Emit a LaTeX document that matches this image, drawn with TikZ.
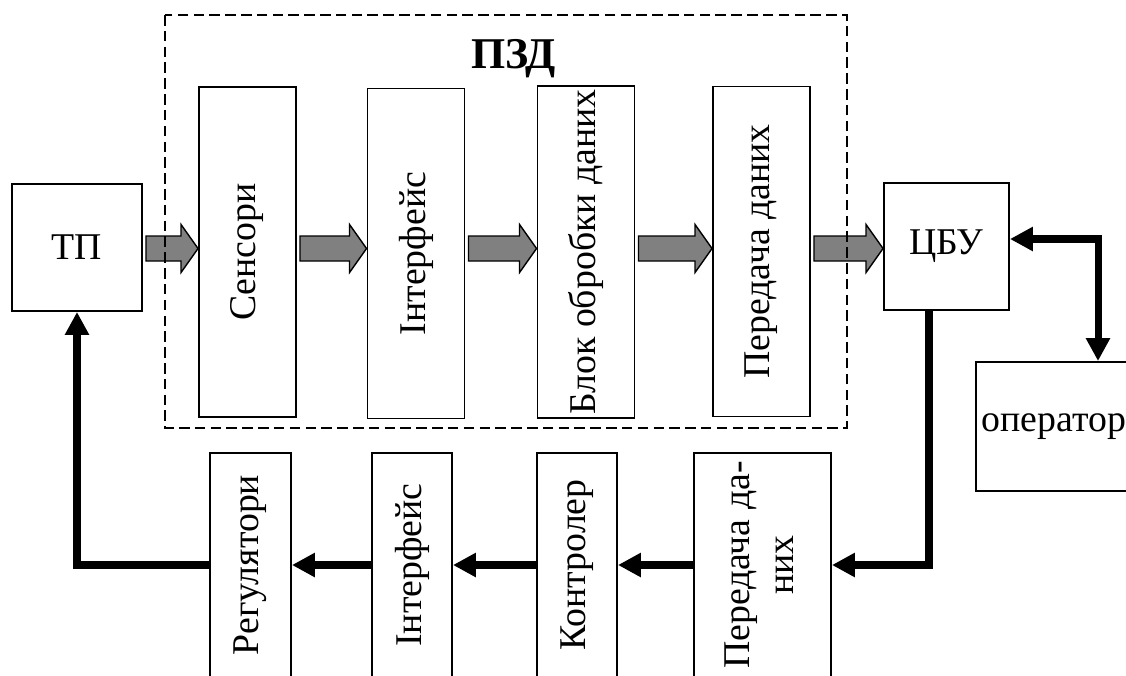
\documentclass[tikz,border=0pt]{standalone}
\usepackage{fontspec}
\setmainfont{Liberation Serif}
\usetikzlibrary{arrows.meta,calc}
\definecolor{arrowgray}{RGB}{128,128,128}

\begin{document}
\begin{tikzpicture}
\tikzset{box/.style = {draw, line width=1.1pt, inner sep=2pt, align=center, font=\fontsize{21.5}{25}\selectfont}}
\tikzset{tallbox/.style = {box, minimum width=1.94cm, minimum height=6.6cm}}
\tikzset{lowbox/.style = {box, minimum height=4.48cm}}
\tikzset{>={Triangle[length=13pt,width=13pt]}}
\tikzset{link/.style = {->, line width=4pt}}
\tikzset{fat/.style = {draw=black, fill=arrowgray, line width=0.8pt,
  to path={let \p1=(\tikztostart.east), \p2=(\tikztotarget.west), \p3=(lvl) in
    (\x1+0.06cm,\y3+0.25cm) -- (\x2-0.34cm,\y3+0.25cm) -- (\x2-0.34cm,\y3+0.48cm)
    -- (\x2,\y3) -- (\x2-0.34cm,\y3-0.48cm) -- (\x2-0.34cm,\y3-0.25cm)
    -- (\x1+0.06cm,\y3-0.25cm) -- cycle}}}

\useasboundingbox (0,0) rectangle (22.52,-13.5);
\clip (0,0) rectangle (22.52,-13.5);
\coordinate (lvl) at (0,-4.97);

% process, control centre, operator
\node[box, minimum width=2.6cm, minimum height=2.54cm] (tp) at (1.54,-4.95) {ТП};
\node[box, minimum width=2.5cm, minimum height=2.54cm] (cbu) at (18.93,-4.93) {ЦБУ};
\node[box, minimum width=3.12cm, minimum height=2.58cm] (oper) at (21.08,-8.53) {оператор};

% data acquisition chain
\node[tallbox] (sens) at (4.95,-5.04) {\rotatebox{90}{Сенсори}};
\node[tallbox] (ifin) at (8.32,-5.07) {\rotatebox{90}{Інтерфейс}};
\node[tallbox] (proc) at (11.72,-5.04) {\rotatebox{90}{Блок обробки даних}};
\node[tallbox] (txin) at (15.23,-5.03) {\rotatebox{90}{Передача даних}};
\node[font=\bfseries\fontsize{25}{30}\selectfont, anchor=base] (pzd) at (10.27,-1.36) {ПЗД};

% control chain
\node[lowbox, minimum width=1.62cm] (reg) at (5.01,-11.3) {\rotatebox{90}{Регулятори}};
\node[lowbox, minimum width=1.6cm] (ifout) at (8.24,-11.3) {\rotatebox{90}{Інтерфейс}};
\node[lowbox, minimum width=1.6cm] (ctrl) at (11.54,-11.3) {\rotatebox{90}{Контролер}};
\node[lowbox, minimum width=2.74cm] (txout) at (15.25,-11.3)
  {\rotatebox{90}{\begin{tabular}{@{}c@{}}Передача да-\\них\end{tabular}}};

\draw[fat] (tp) to (sens);
\draw[fat] (sens) to (ifin);
\draw[fat] (ifin) to (proc);
\draw[fat] (proc) to (txin);
\draw[fat] (txin) to (cbu);

\draw[dashed, line width=1.1pt, dash pattern=on 6pt off 3pt] (3.3,-0.3) rectangle (16.94,-8.56);

\draw[link, <->] ([yshift=0.15cm]cbu.east) -| ([xshift=0.88cm]oper.north);
\draw[link] ([xshift=-0.35cm]cbu.south) |- (txout);
\draw[link] (txout) -- (ctrl);
\draw[link] (ctrl) -- (ifout);
\draw[link] (ifout) -- (reg);
\draw[link] (reg) -| (tp.south);

\end{tikzpicture}
\end{document}
